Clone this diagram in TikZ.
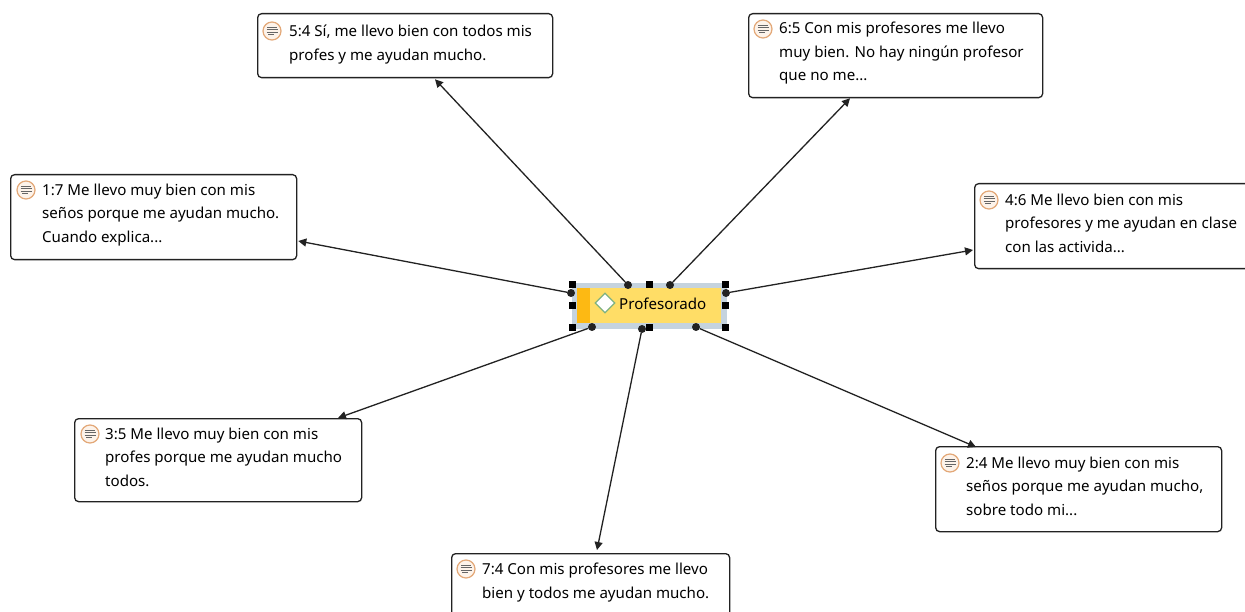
\documentclass[tikz,border=0pt]{standalone}
\usepackage{fontspec}
\setmainfont{Noto Sans}
\usetikzlibrary{arrows.meta,shapes.geometric}
\definecolor{halocol}{HTML}{C5D3DE}
\definecolor{barcol}{HTML}{FDB913}
\definecolor{bodycol}{HTML}{FFDD66}
\definecolor{ringcol}{HTML}{E3A878}
\definecolor{ringfill}{HTML}{FDF3EA}
\definecolor{inkcol}{HTML}{222222}
\tikzset{
  x=1pt,y=-1pt,
  quotebox/.style={draw=inkcol,line width=1.3pt,rounded corners=4pt,fill=white,anchor=north west,inner sep=0pt},
  quotetext/.style={anchor=north west,inner sep=0pt,align=left,text=black,font=\fontsize{15.1}{23.3}\selectfont},
  iconring/.style={circle,draw=ringcol,fill=ringfill,line width=1.2pt,minimum size=18pt,inner sep=0pt},
  handle/.style={fill=black,draw=none,minimum size=7pt,inner sep=0pt,rectangle},
  dot/.style={circle,fill=inkcol,draw=none,minimum size=8pt,inner sep=0pt},
  link/.style={draw=inkcol,line width=1.3pt,-{Triangle[length=8pt,width=8pt]}},
}
\newcommand{\memolines}[1]{%
  \draw[black!60,line width=1pt] ([xshift=-5,yshift=3.5]#1.center) -- ([xshift=5,yshift=3.5]#1.center)
    ([xshift=-5.5,yshift=1.2]#1.center) -- ([xshift=5.5,yshift=1.2]#1.center)
    ([xshift=-5.5,yshift=-1.2]#1.center) -- ([xshift=5.5,yshift=-1.2]#1.center)
    ([xshift=-4,yshift=-3.5]#1.center) -- ([xshift=2,yshift=-3.5]#1.center);}
\begin{document}
\begin{tikzpicture}
\useasboundingbox (0,0) rectangle (1245,612);
\clip (0,0) rectangle (1245,612);
\fill[white] (0,0) rectangle (1245,612);

% central code node
\node[fill=halocol,draw=none,minimum width=155pt,minimum height=46pt,inner sep=0pt] (halo) at (649,306) {};
\node[fill=bodycol,draw=none,minimum width=144pt,minimum height=35pt,inner sep=0pt] (prof) at (649,306) {};
\node[fill=barcol,draw=none,minimum width=13pt,minimum height=35pt,inner sep=0pt,anchor=west] (profbar) at (prof.west) {};
\node[diamond,aspect=1,draw=green!40!black!50,fill=white,line width=1.2pt,minimum size=20pt,inner sep=0pt] (profdia) at (605,303) {};
\node[anchor=west,inner sep=0pt,text=black,font=\fontsize{15.1}{18}\selectfont] (proftxt) at (619,304) {Profesorado};

% quotation boxes
\node[quotebox,minimum width=295pt,minimum height=64pt] (b54) at (257,13) {};
\node[quotebox,minimum width=294pt,minimum height=84pt] (b65) at (748,13) {};
\node[quotebox,minimum width=286pt,minimum height=85pt] (b17) at (10,174) {};
\node[quotebox,minimum width=290pt,minimum height=85pt] (b46) at (974,183) {};
\node[quotebox,minimum width=287pt,minimum height=83pt] (b35) at (74,418) {};
\node[quotebox,minimum width=286pt,minimum height=85pt] (b24) at (935,446) {};
\node[quotebox,minimum width=278pt,minimum height=80pt] (b74) at (451,553) {};

\node[quotetext] (t54) at (289,25) {5:4 Sí, me llevo bien con todos mis\\profes y me ayudan mucho.};
\node[quotetext] (t65) at (779,22) {6:5 Con mis profesores me llevo\\muy bien. No hay ningún profesor\\que no me...};
\node[quotetext] (t17) at (42,184) {1:7 Me llevo muy bien con mis\\seños porque me ayudan mucho.\\Cuando explica...};
\node[quotetext] (t46) at (1005,194) {4:6 Me llevo bien con mis\\profesores y me ayudan en clase\\con las activida...};
\node[quotetext] (t35) at (105,428) {3:5 Me llevo muy bien con mis\\profes porque me ayudan mucho\\todos.};
\node[quotetext] (t24) at (966,457) {2:4 Me llevo muy bien con mis\\seños porque me ayudan mucho,\\sobre todo mi...};
\node[quotetext] (t74) at (482,563) {7:4 Con mis profesores me llevo\\bien y todos me ayudan mucho.};

% memo icons
\node[iconring] (i54) at (272,31) {}; \memolines{i54}
\node[iconring] (i65) at (763,29) {}; \memolines{i65}
\node[iconring] (i17) at (26,190) {}; \memolines{i17}
\node[iconring] (i46) at (989,200) {}; \memolines{i46}
\node[iconring] (i35) at (90,434) {}; \memolines{i35}
\node[iconring] (i24) at (950,463) {}; \memolines{i24}
\node[iconring] (i74) at (466,569) {}; \memolines{i74}

% connectors
\node[dot] (d54) at (628,285) {};
\node[dot] (d65) at (670,285) {};
\node[dot] (d17) at (571,293) {};
\node[dot] (d46) at (726,293) {};
\node[dot] (d35) at (592,327) {};
\node[dot] (d24) at (696,327) {};
\node[dot] (d74) at (642,329) {};
\draw[link] (d54) -- ([xshift=178,yshift=-1]b54.south west);
\draw[link] (d65) -- ([xshift=102,yshift=0]b65.south west);
\draw[link] (d17) -- ([xshift=1,yshift=-67]b17.north east);
\draw[link] (d46) -- ([xshift=-1,yshift=-67]b46.north west);
\draw[link] (d35) -- ([xshift=264,yshift=0]b35.north west);
\draw[link] (d24) -- ([xshift=41,yshift=-1]b24.north west);
\draw[link] (d74) -- ([xshift=146,yshift=3]b74.north west);

% selection handles
\foreach \n/\px/\py in {ha/572/285,hb/649/285,hc/725/285,hd/572/306,he/725/306,hf/572/328,hg/649/328,hh/725/328}
  \node[handle] (\n) at (\px,\py) {};
\end{tikzpicture}
\end{document}
